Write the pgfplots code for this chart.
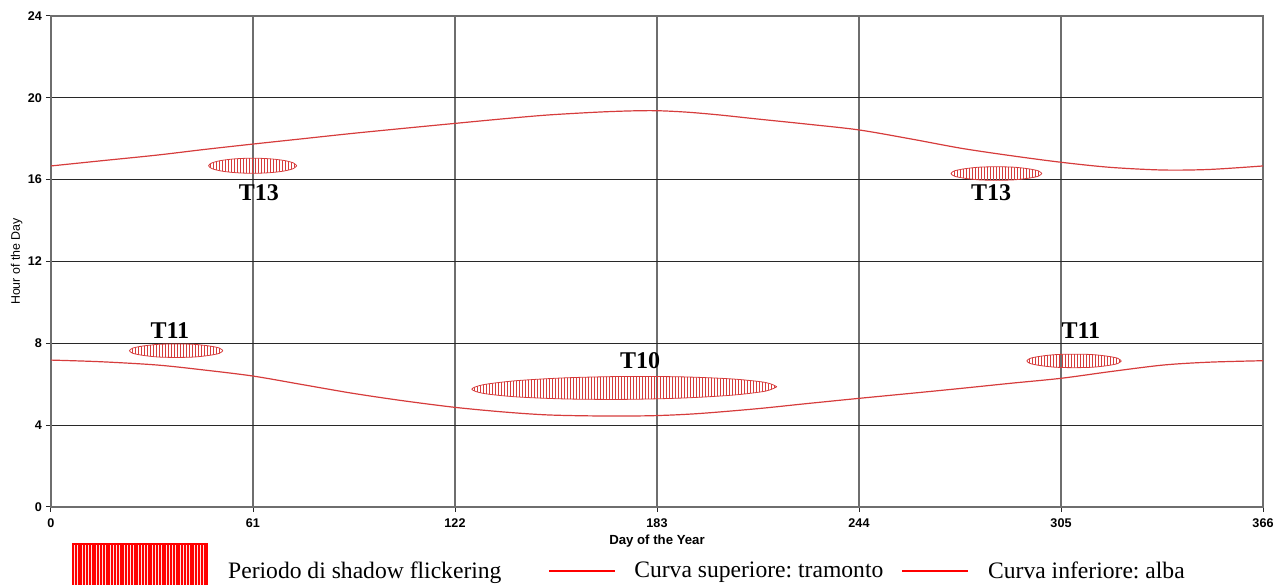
\documentclass[border=0pt]{standalone}
\usepackage{pgfplots}
\pgfplotsset{compat=1.18}
\usepackage{fontspec}
\setmainfont{Liberation Sans}
\newfontfamily\tnr{Liberation Serif}
\usetikzlibrary{patterns.meta}
\definecolor{curve}{RGB}{214,60,60}
\definecolor{legred}{RGB}{255,0,0}
\definecolor{legpink}{RGB}{255,225,225}
\definecolor{vgrid}{RGB}{110,110,110}
\definecolor{hgrid}{RGB}{40,40,40}
\begin{document}
\frenchspacing
\begin{tikzpicture}
\begin{axis}[
 scale only axis, width=606pt, height=245.5pt,
 xmin=0, xmax=366, ymin=0, ymax=24,
 xtick={0,61,122,183,244,305,366}, ytick={0,4,8,12,16,20,24},
 grid=major,
 x grid style={vgrid, line width=0.65pt},
 y grid style={hgrid, line width=0.5pt},
 axis line style={vgrid, line width=0.65pt},
 tick align=outside, major tick length=2.5pt,
 tick style={hgrid, line width=0.5pt},
 xtick pos=bottom, ytick pos=left,
 /pgf/number format/assume math mode=true,
 ticklabel style={font=\fontsize{6.3}{7}\selectfont\bfseries},
 yticklabel style={xshift=1.5pt},
 xlabel={Day of the Year},
 xlabel style={font=\fontsize{6.6}{8}\selectfont\bfseries, at={(axis description cs:0.5,-0.0692)}, anchor=center},
 ylabel={Hour of the Day},
 ylabel style={font=\fontsize{6.2}{8}\selectfont, at={(axis description cs:-0.0284,0.5)}, anchor=center},
 legend style={at={(0,0)}, anchor=north west, xshift=10.5pt, yshift=-18pt, draw=none, fill=none,
   inner sep=0pt, outer sep=0pt, font=\tnr\fontsize{11.8}{14}\selectfont\frenchspacing,
   nodes={inner sep=0pt},
   /tikz/every odd column/.append style={column sep=10pt},
   /tikz/column 2/.style={column sep=23.5pt},
   /tikz/column 4/.style={column sep=9.5pt}},
 legend columns=3, legend cell align=left,
]
% upper curve: sunset
\addplot[curve, line width=0.6pt, smooth, forget plot] coordinates {
(0,16.67) (15,16.92) (32,17.2) (46,17.47) (61,17.74) (76,18.0) (91,18.26) (106,18.5) (122,18.75) (137,18.98) (150,19.16) (165,19.3) (175,19.36) (183,19.37) (192,19.3) (202,19.16) (213,18.97) (228,18.72) (244,18.43) (260,17.98) (275,17.53) (290,17.17) (305,16.85) (320,16.6) (336,16.47) (350,16.5) (366,16.67)};
% lower curve: sunrise
\addplot[curve, line width=0.6pt, smooth, forget plot] coordinates {
(0,7.18) (15,7.1) (32,6.94) (46,6.7) (61,6.4) (76,5.98) (91,5.56) (106,5.2) (122,4.87) (137,4.64) (150,4.5) (165,4.45) (181,4.46) (195,4.56) (213,4.8) (228,5.05) (244,5.31) (260,5.56) (275,5.8) (290,6.05) (305,6.29) (320,6.62) (336,6.94) (350,7.08) (366,7.15)};
% shadow flicker periods
\addplot[draw=curve, line width=0.4pt, smooth, pattern={Lines[angle=90,distance=1.5pt,line width=0.4pt]}, pattern color=curve, forget plot] coordinates {
(74.2,16.68) (73.19,16.82) (70.3,16.94) (65.99,17.02) (60.9,17.05) (55.81,17.02) (51.5,16.94) (48.61,16.82) (47.6,16.68) (48.61,16.54) (51.5,16.42) (55.81,16.34) (60.9,16.31) (65.99,16.34) (70.3,16.42) (73.19,16.54) (74.2,16.68)};
\addplot[draw=curve, line width=0.4pt, smooth, pattern={Lines[angle=90,distance=1.5pt,line width=0.4pt]}, pattern color=curve, forget plot] coordinates {
(299.2,16.3) (298.16,16.43) (295.19,16.53) (290.75,16.61) (285.5,16.63) (280.25,16.61) (275.81,16.53) (272.84,16.43) (271.8,16.3) (272.84,16.17) (275.81,16.07) (280.25,15.99) (285.5,15.97) (290.75,15.99) (295.19,16.07) (298.16,16.17) (299.2,16.3)};
\addplot[draw=curve, line width=0.4pt, smooth, pattern={Lines[angle=90,distance=1.5pt,line width=0.4pt]}, pattern color=curve, forget plot] coordinates {
(51.9,7.64) (50.83,7.77) (47.77,7.87) (43.2,7.95) (37.8,7.97) (32.4,7.95) (27.83,7.87) (24.77,7.77) (23.7,7.64) (24.77,7.51) (27.83,7.41) (32.4,7.33) (37.8,7.31) (43.2,7.33) (47.77,7.41) (50.83,7.51) (51.9,7.64)};
\addplot[draw=curve, line width=0.4pt, smooth, pattern={Lines[angle=90,distance=1.5pt,line width=0.4pt]}, pattern color=curve, forget plot] coordinates {
(323.2,7.14) (322.12,7.27) (319.02,7.37) (314.41,7.45) (308.95,7.47) (303.49,7.45) (298.88,7.37) (295.78,7.27) (294.7,7.14) (295.78,7.01) (298.88,6.91) (303.49,6.83) (308.95,6.81) (314.41,6.83) (319.02,6.91) (322.12,7.01) (323.2,7.14)};
\addplot[draw=curve, line width=0.4pt, smooth, pattern={Lines[angle=90,distance=1.5pt,line width=0.4pt]}, pattern color=curve, forget plot] coordinates {
(219.2,5.88) (215.7,6.089) (205.71,6.258) (190.79,6.36) (173.15,6.38) (155.51,6.314) (140.59,6.174) (130.6,5.979) (127.1,5.76) (130.6,5.551) (140.59,5.382) (155.51,5.28) (173.15,5.26) (190.79,5.326) (205.71,5.466) (215.7,5.661) (219.2,5.88)};
% labels
\node[font=\tnr\bfseries\fontsize{12}{14}\selectfont] at (axis cs:62.8,15.35) {T13};
\node[font=\tnr\bfseries\fontsize{12}{14}\selectfont] at (axis cs:283.9,15.35) {T13};
\node[font=\tnr\bfseries\fontsize{12}{14}\selectfont] at (axis cs:35.9,8.6) {T11};
\node[font=\tnr\bfseries\fontsize{12}{14}\selectfont] at (axis cs:311,8.6) {T11};
\node[font=\tnr\bfseries\fontsize{12}{14}\selectfont] at (axis cs:177.9,7.14) {T10};
% legend
\addlegendimage{legend image code/.code={%
  \fill[color=legpink] (0pt,-16pt) rectangle (67.5pt,14pt);
  \foreach \k in {0,...,48}{\fill[color=legred] ({\k*1.4pt},-16pt) rectangle ({\k*1.4pt+0.5pt},14pt);}%
  \fill[color=legred] (0pt,13.6pt) rectangle (67.5pt,14pt);
}}
\addlegendentry{Periodo di shadow flickering}
\addlegendimage{legend image code/.code={\fill[color=legred] (0pt,-0.25pt) rectangle (32.5pt,0.25pt);}}
\addlegendentry{Curva superiore: tramonto}
\addlegendimage{legend image code/.code={\fill[color=legred] (0pt,-0.25pt) rectangle (32.5pt,0.25pt);}}
\addlegendentry{Curva inferiore: alba}
\end{axis}
\pgfresetboundingbox
\path[use as bounding box] ([xshift=-25.5pt,yshift=-39pt]current axis.south west) rectangle ([xshift=5.5pt,yshift=8pt]current axis.north east);
\end{tikzpicture}
\end{document}
